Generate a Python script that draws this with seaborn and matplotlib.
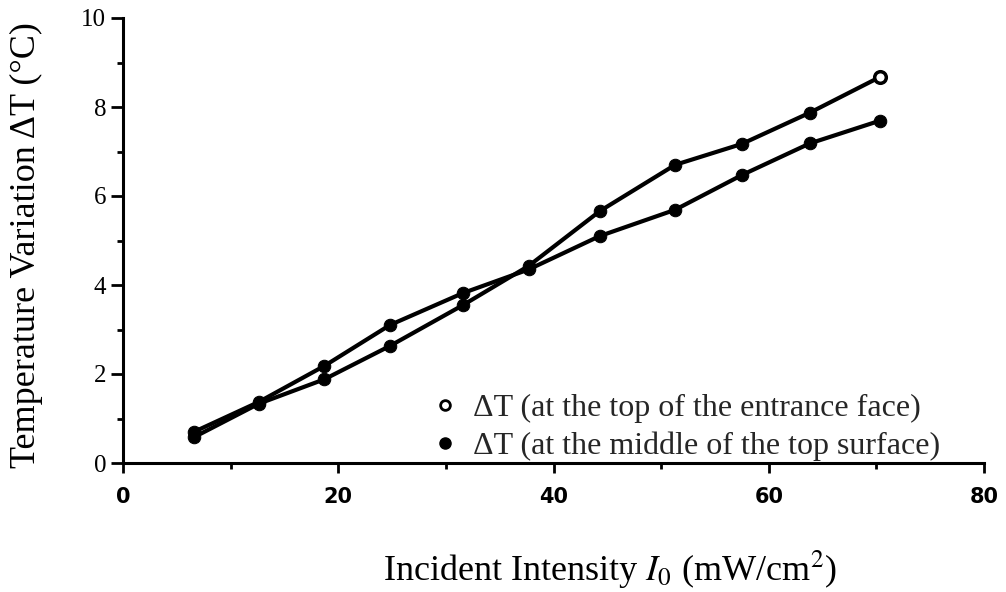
import matplotlib
matplotlib.use("Agg")
import matplotlib.pyplot as plt
from matplotlib.lines import Line2D
import seaborn as sns
import pandas as pd

intensity = [6.6, 12.6, 18.7, 24.8, 31.6, 37.7, 44.3, 51.3, 57.5, 63.8, 70.3]
dT_entrance = [0.58, 1.33, 1.88, 2.63, 3.55, 4.43, 5.66, 6.70, 7.17, 7.87, 8.67]
dT_middle = [0.70, 1.37, 2.18, 3.10, 3.82, 4.35, 5.10, 5.69, 6.47, 7.18, 7.69]
series_names = ["ΔT (at the top of the entrance face)",
                "ΔT (at the middle of the top surface)"]
x_ticks = [0, 20, 40, 60, 80]
y_ticks = [0, 2, 4, 6, 8, 10]

sns.set_theme(style="ticks")
plt.rcParams['font.family'] = ['Liberation Serif', 'DejaVu Serif']
plt.rcParams['mathtext.fontset'] = 'stix'

df = pd.DataFrame({
    "intensity": intensity * 2,
    "dT": dT_entrance + dT_middle,
    "series": [series_names[0]] * len(intensity) + [series_names[1]] * len(intensity),
})

fig = plt.figure(figsize=(10.06, 5.92), dpi=100)
ax = fig.add_axes([123 / 1006, 129 / 592, 861 / 1006, 445 / 592])

sns.lineplot(data=df, x="intensity", y="dT", hue="series",
             palette=["black", "black"], marker="o", markersize=9,
             markeredgecolor="black", linewidth=3, legend=False, ax=ax)
last = df[df["series"] == series_names[0]].tail(1)
sns.scatterplot(data=last, x="intensity", y="dT", s=70, color="white",
                edgecolor="black", linewidth=2.5, zorder=5, ax=ax, legend=False)

ax.set_xlim(0, 80)
ax.set_ylim(0, 10)
ax.set_xticks(x_ticks)
ax.set_xticks([10, 30, 50, 70], minor=True)
ax.set_yticks(y_ticks)
ax.set_yticks([1, 3, 5, 7, 9], minor=True)
ax.set_xticklabels([str(t) for t in x_ticks], fontfamily="DejaVu Sans",
                   fontweight="bold", fontsize=15)
ax.set_yticklabels([str(t) for t in y_ticks], fontsize=18)
ax.tick_params(axis="both", which="both", direction="out", width=2,
               color="black", labelcolor="black")
ax.tick_params(axis="x", which="major", length=7, pad=10)
ax.tick_params(axis="x", which="minor", length=4)
ax.tick_params(axis="y", which="major", length=9, pad=3)
ax.tick_params(axis="y", which="minor", length=4)

sns.despine(ax=ax)
for s in ["left", "bottom"]:
    ax.spines[s].set_linewidth(2.2)
    ax.spines[s].set_color("black")

ax.set_xlabel("Incident Intensity $I_0$ (mW/cm$^2$)", fontsize=26, color="black")
ax.set_ylabel("Temperature Variation ΔT (°C)", fontsize=26, color="black")
ax.xaxis.label.set_va("center")
ax.xaxis.label.set_ha("center")
ax.xaxis.set_label_coords(0.566, -0.24)
ax.yaxis.label.set_va("center")
ax.yaxis.label.set_ha("center")
ax.yaxis.set_label_coords(-0.112, 0.49)

handles = [
    Line2D([], [], linestyle="none", marker="o", markersize=7,
           markerfacecolor="white", markeredgecolor="black", markeredgewidth=2),
    Line2D([], [], linestyle="none", marker="o", markersize=8,
           markerfacecolor="black", markeredgecolor="black"),
]
ax.legend(handles, series_names, loc="upper left",
          bbox_to_anchor=(0.355, 0.155), frameon=False, fontsize=23,
          handlelength=1.0, handletextpad=0.4, labelspacing=0.25,
          borderpad=0, borderaxespad=0)

fig.savefig("out.png", dpi=100, facecolor="white")
